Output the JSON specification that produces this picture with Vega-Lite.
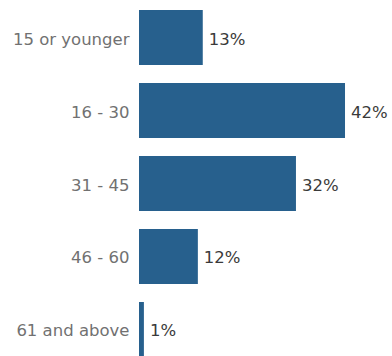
{
  "$schema": "https://vega.github.io/schema/vega-lite/v6.json",
  "autosize": "none",
  "padding": {"left": 139, "top": 0, "right": 0, "bottom": 0},
  "width": 253,
  "height": 367,
  "background": "white",
  "config": {"view": {"stroke": null}},
  "data": {"values": [
    {"age": "15 or younger", "pct": 0.13},
    {"age": "16 - 30", "pct": 0.42},
    {"age": "31 - 45", "pct": 0.32},
    {"age": "46 - 60", "pct": 0.12},
    {"age": "61 and above", "pct": 0.01}
  ]},
  "encoding": {
    "y": {"field": "age", "type": "nominal", "sort": null,
      "scale": {"paddingInner": 0.2466, "paddingOuter": 0.137},
      "axis": {"title": null, "domain": false, "ticks": false, "labelPadding": 10, "labelOffset": 2,
        "labelFont": "DejaVu Sans", "labelFontSize": 16.5, "labelColor": "#717171", "labelLimit": 200}},
    "x": {"field": "pct", "type": "quantitative", "scale": {"domain": [0, 0.5158], "nice": false}, "axis": null}
  },
  "layer": [
    {"mark": {"type": "bar", "color": "#27608d"}},
    {"mark": {"type": "text", "align": "left", "dx": 6, "dy": 2, "font": "DejaVu Sans", "fontSize": 16.5, "color": "#3a3a3a"},
     "encoding": {"text": {"field": "pct", "type": "quantitative", "format": ".0%"}}}
  ]
}
